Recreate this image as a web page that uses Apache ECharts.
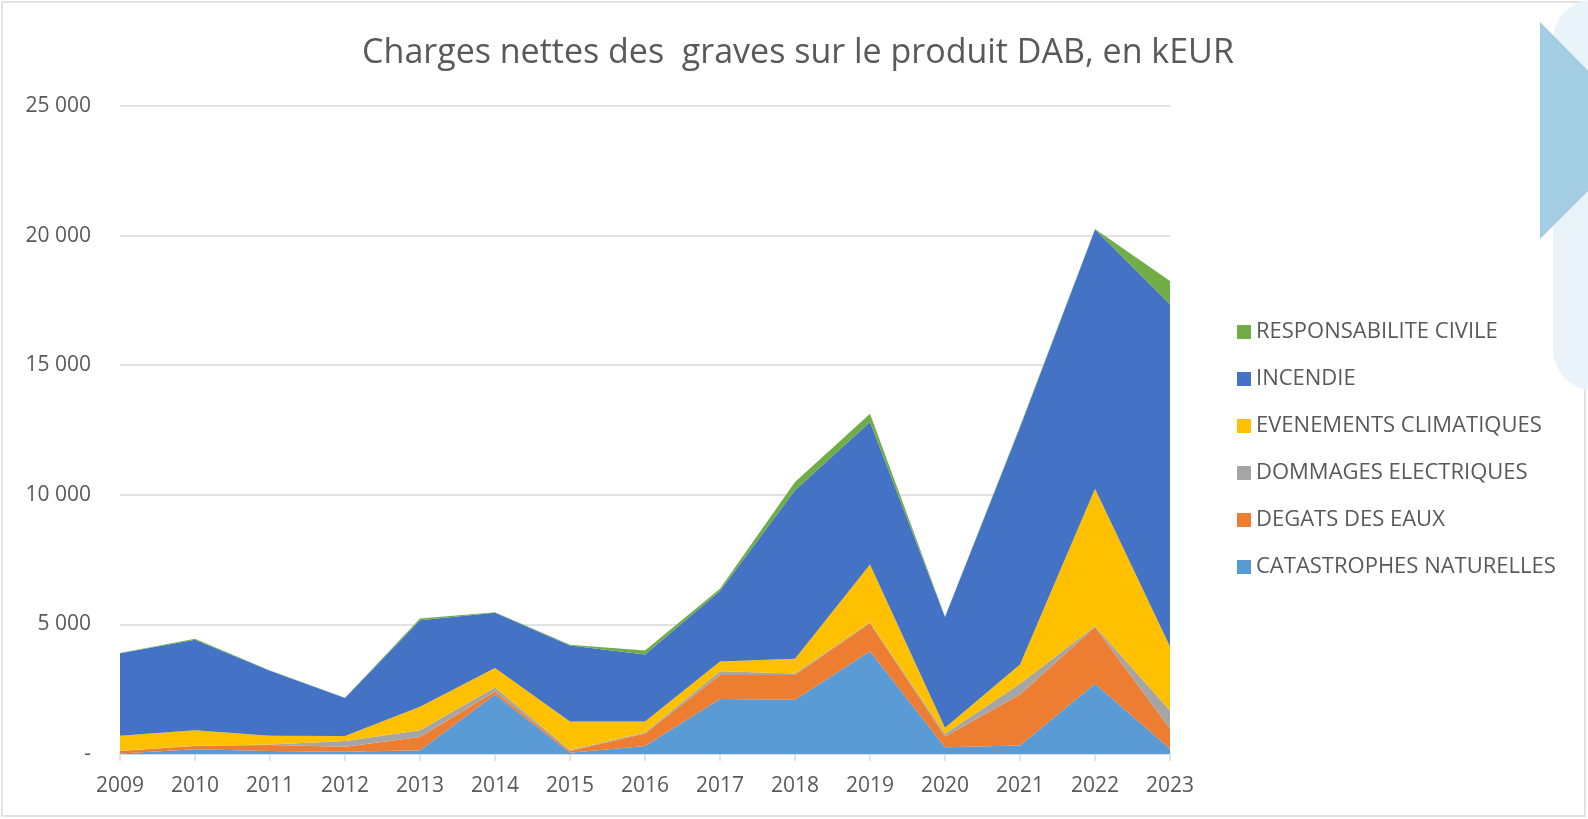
<!DOCTYPE html>
<html>
<head>
<meta charset="utf-8">
<script src="https://cdn.jsdelivr.net/npm/echarts@6/dist/echarts.min.js"></script>
<style>
  html, body { margin: 0; padding: 0; background: #fff; }
  #chart { width: 1588px; height: 819px; }
</style>
</head>
<body>
<div id="chart"></div>
<script>
var annees = ['2009', '2010', '2011', '2012', '2013', '2014', '2015', '2016', '2017', '2018', '2019', '2020', '2021', '2022', '2023'];

// valeurs (kEUR)
var catNat = [20, 180, 120, 90, 140, 2300, 50, 310, 2120, 2090, 3960, 260, 330, 2710, 200];
var degatsEaux = [100, 130, 230, 190, 520, 115, 70, 480, 930, 960, 1090, 416, 1967, 2185, 773];
var dommagesElec = [10, 10, 20, 220, 260, 155, 30, 40, 140, 60, 30, 104, 413, 35, 706];
var evenClim = [570, 600, 330, 194, 904, 751, 1100, 423, 376, 560, 2235, 231, 745, 5307, 2471];
var incendie = [3190, 3490, 2510, 1470, 3333, 2132, 2933, 2584, 2719, 6501, 5493, 4270, 9145, 9997, 13201];
var respCivile = [10, 40, 10, 10, 70, 20, 30, 160, 90, 320, 320, 10, 40, 20, 900];

var noms = ['CATASTROPHES NATURELLES', 'DEGATS DES EAUX', 'DOMMAGES ELECTRIQUES',
            'EVENEMENTS CLIMATIQUES', 'INCENDIE', 'RESPONSABILITE CIVILE'];
var couleurs = ['#5B9BD5', '#ED7D31', '#A5A5A5', '#FFC000', '#4472C4', '#70AD47'];
var valeurs = [catNat, degatsEaux, dommagesElec, evenClim, incendie, respCivile];

var police = "'Open Sans', 'Noto Sans', sans-serif";

var chartDom = document.getElementById('chart');
var myChart = echarts.init(chartDom);

var series = noms.map(function (nom, i) {
    return {
        name: nom,
        type: 'line',
        stack: 'total',
        data: valeurs[i],
        showSymbol: false,
        symbol: 'none',
        lineStyle: { width: 0, opacity: 0 },
        areaStyle: { color: couleurs[i], opacity: 1 },
        itemStyle: { color: couleurs[i] },
        emphasis: { disabled: true }
    };
});

var option = {
    animation: false,
    title: {
        text: 'Charges nettes des  graves sur le produit DAB, en kEUR',
        left: 793,
        textAlign: 'center',
        top: 31,
        textStyle: {
            fontFamily: police,
            fontSize: 34,
            fontWeight: 'normal',
            color: '#595959'
        }
    },
    legend: {
        orient: 'vertical',
        left: 1232,
        top: 316,
        itemWidth: 14,
        itemHeight: 14,
        itemGap: 25,
        icon: 'rect',
        data: noms.slice().reverse(),
        textStyle: {
            fontFamily: police,
            fontSize: 22,
            color: '#595959'
        }
    },
    grid: {
        left: 120,
        right: 418,
        top: 106,
        bottom: 65,
        containLabel: false
    },
    xAxis: {
        type: 'category',
        data: annees,
        boundaryGap: false,
        axisLine: { lineStyle: { color: '#D9D9D9', width: 1.5 } },
        axisTick: { show: true, length: 7, lineStyle: { color: '#D9D9D9', width: 1.5 } },
        axisLabel: {
            margin: 22,
            fontFamily: police,
            fontSize: 21,
            color: '#595959'
        }
    },
    yAxis: {
        type: 'value',
        min: 0,
        max: 25000,
        interval: 5000,
        axisLine: { show: false },
        axisTick: { show: false },
        splitLine: { lineStyle: { color: '#D9D9D9', width: 1.5 } },
        axisLabel: {
            margin: 29,
            fontFamily: police,
            fontSize: 21,
            color: '#595959',
            formatter: function (v) {
                if (v === 0) return '-';
                return String(v).replace(/\B(?=(\d{3})+(?!\d))/g, ' ');
            }
        }
    },
    graphic: [
        {
            type: 'rect',
            shape: { x: 2, y: 2, width: 1583, height: 814 },
            style: { fill: 'none', stroke: '#D9D9D9', lineWidth: 1.5 },
            z: 0
        },
        {
            type: 'rect',
            shape: { x: 1553, y: 0, width: 80, height: 390, r: 40 },
            style: { fill: '#EAF3FA' },
            z: 1
        },
        {
            type: 'polygon',
            shape: { points: [[1540, 22], [1540, 239], [1648, 131]] },
            style: { fill: '#A2CDE2' },
            z: 2
        }
    ],
    series: series
};

myChart.setOption(option);
</script>
</body>
</html>
